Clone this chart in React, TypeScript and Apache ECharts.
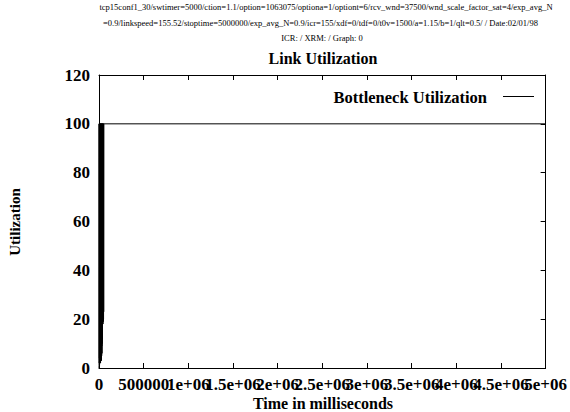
import React, { useEffect, useRef } from "react";
import * as echarts from "echarts";

const headerLines = [
  "tcp15conf1_30/swtimer=5000/ction=1.1/option=1063075/optiona=1/optiont=6/rcv_wnd=37500/wnd_scale_factor_sat=4/exp_avg_N",
  "=0.9/linkspeed=155.52/stoptime=5000000/exp_avg_N=0.9/icr=155/xdf=0/tdf=0/t0v=1500/a=1.15/b=1/qlt=0.5/ / Date:02/01/98",
  "ICR: / XRM: / Graph: 0",
];
const chartTitle = "Link Utilization";
const seriesName = "Bottleneck Utilization";
const xAxisName = "Time in milliseconds";
const yAxisName = "Utilization";

const xTickValues = [0, 500000, 1000000, 1500000, 2000000, 2500000, 3000000, 3500000, 4000000, 4500000, 5000000];
const xTickLabels = ["0", "500000", "1e+06", "1.5e+06", "2e+06", "2.5e+06", "3e+06", "3.5e+06", "4e+06", "4.5e+06", "5e+06"];
const yTickValues = [0, 20, 40, 60, 80, 100, 120];

const timeMs = [
  0, 600, 1200, 2000, 2800, 3600, 4400, 5200, 6000, 6800, 7600, 8400, 9200, 10000,
  10800, 11600, 12400, 13200, 14000, 14800, 15600, 16400, 17200, 18000, 18800, 19600,
  20400, 21200, 22000, 22800, 23600, 24400, 25200, 26000, 26800, 27600, 28400, 29200,
  30000, 30800, 31600, 32400, 33200, 34000, 34800, 35600, 36400, 37200, 38000, 38800,
  39600, 40400, 41200, 42000, 42800, 43600, 44400, 45200, 46000, 46800, 47600, 48400,
  49200, 50000, 50800, 51600, 52400, 53200, 54000, 5000000,
];
const utilization = [
  0, 1, 3, 100, 2, 100, 4, 100, 1, 100, 5, 100, 3, 100,
  2, 100, 6, 100, 3, 100, 4, 100, 2, 100, 5, 100,
  3, 100, 7, 100, 4, 100, 6, 100, 3, 100, 8, 100,
  5, 100, 9, 100, 6, 100, 10, 100, 12, 100, 14, 100,
  18, 100, 19, 100, 20, 100, 18, 100, 21, 100, 19, 100,
  22, 100, 20, 100, 23, 100, 100, 100,
];

const FONT = "'Liberation Serif', 'Times New Roman', serif";

export default function App() {
  const ref = useRef<HTMLDivElement>(null);
  useEffect(() => {
    if (!ref.current) return;
    const chart = echarts.init(ref.current, null, { renderer: "svg" });
    const data = timeMs.map((t, i) => [t, utilization[i]]);
    // Labels split over two bottom axes (even / odd ticks) so that ECharts keeps every one of them,
    // overlapping as in the reference.
    const labelFor = (parity: number) => (v: number) => {
      const idx = xTickValues.indexOf(v);
      return idx >= 0 && idx % 2 === parity ? xTickLabels[idx] : "";
    };
    const labelStyle = {
      color: "#000", fontFamily: FONT, fontWeight: "bold", fontSize: 17,
      margin: 8, hideOverlap: false,
    };
    const gridLeft = 99, gridTop = 75, gridRight = 22, gridBottom = 44;
    chart.setOption({
      animation: false,
      backgroundColor: "#ffffff",
      grid: { left: gridLeft, top: gridTop, right: gridRight, bottom: gridBottom, containLabel: false },
      xAxis: [
        {
          type: "value", min: 0, max: 5000000, interval: 500000, position: "bottom",
          axisLine: { show: true, onZero: false, lineStyle: { color: "#000", width: 1 } },
          axisTick: { show: true, inside: true, length: 5, lineStyle: { color: "#000" } },
          splitLine: { show: false },
          axisLabel: { ...labelStyle, formatter: labelFor(0) },
        },
        {
          type: "value", min: 0, max: 5000000, interval: 500000, position: "bottom", offset: 0,
          axisLine: { show: false, onZero: false },
          axisTick: { show: false },
          splitLine: { show: false },
          axisLabel: { ...labelStyle, formatter: labelFor(1) },
        },
        {
          type: "value", min: 0, max: 5000000, interval: 500000, position: "top",
          axisLine: { show: true, onZero: false, lineStyle: { color: "#000", width: 1 } },
          axisTick: { show: true, inside: true, length: 5, lineStyle: { color: "#000" } },
          splitLine: { show: false }, axisLabel: { show: false },
        },
      ],
      yAxis: [
        {
          type: "value", min: 0, max: 120, interval: 20, position: "left",
          axisLine: { show: true, onZero: false, lineStyle: { color: "#000", width: 1 } },
          axisTick: { show: true, inside: true, length: 5, lineStyle: { color: "#000" } },
          splitLine: { show: false },
          axisLabel: {
            formatter: (v: number) => (yTickValues.includes(v) ? String(v) : ""),
            color: "#000", fontFamily: FONT, fontWeight: "bold", fontSize: 17, margin: 9,
          },
        },
        {
          type: "value", min: 0, max: 120, interval: 20, position: "right",
          axisLine: { show: true, onZero: false, lineStyle: { color: "#000", width: 1 } },
          axisTick: { show: true, inside: true, length: 5, lineStyle: { color: "#000" } },
          splitLine: { show: false }, axisLabel: { show: false },
        },
      ],
      series: [
        {
          name: seriesName, type: "line", data, showSymbol: false, symbol: "none",
          lineStyle: { color: "#000", width: 1 }, xAxisIndex: 0, yAxisIndex: 0,
        },
      ],
      graphic: [
        { type: "text", x: 326, y: 7, style: { text: headerLines[0], font: `8.5px ${FONT}`, fill: "#000", textAlign: "center", textVerticalAlign: "middle" } },
        { type: "text", x: 320.5, y: 23, style: { text: headerLines[1], font: `8.5px ${FONT}`, fill: "#000", textAlign: "center", textVerticalAlign: "middle" } },
        { type: "text", x: 322, y: 38, style: { text: headerLines[2], font: `8.5px ${FONT}`, fill: "#000", textAlign: "center", textVerticalAlign: "middle" } },
        { type: "text", x: 323, y: 58, style: { text: chartTitle, font: `bold 16px ${FONT}`, fill: "#000", textAlign: "center", textVerticalAlign: "middle" } },
        { type: "text", x: 323, y: 403, style: { text: xAxisName, font: `bold 16px ${FONT}`, fill: "#000", textAlign: "center", textVerticalAlign: "middle" } },
        { type: "text", x: 15, y: 222, rotation: Math.PI / 2, style: { text: yAxisName, font: `bold 15px ${FONT}`, fill: "#000", textAlign: "center", textVerticalAlign: "middle" } },
        { type: "text", x: 487, y: 97, style: { text: seriesName, font: `bold 16.5px ${FONT}`, fill: "#000", textAlign: "right", textVerticalAlign: "middle" } },
        { type: "line", shape: { x1: 503, y1: 96.5, x2: 534, y2: 96.5 }, style: { stroke: "#000", lineWidth: 1 } },
      ],
    });
    return () => chart.dispose();
  }, []);
  return <div ref={ref} style={{ width: 570, height: 412, position: "absolute", left: 0, top: 0 }} />;
}
